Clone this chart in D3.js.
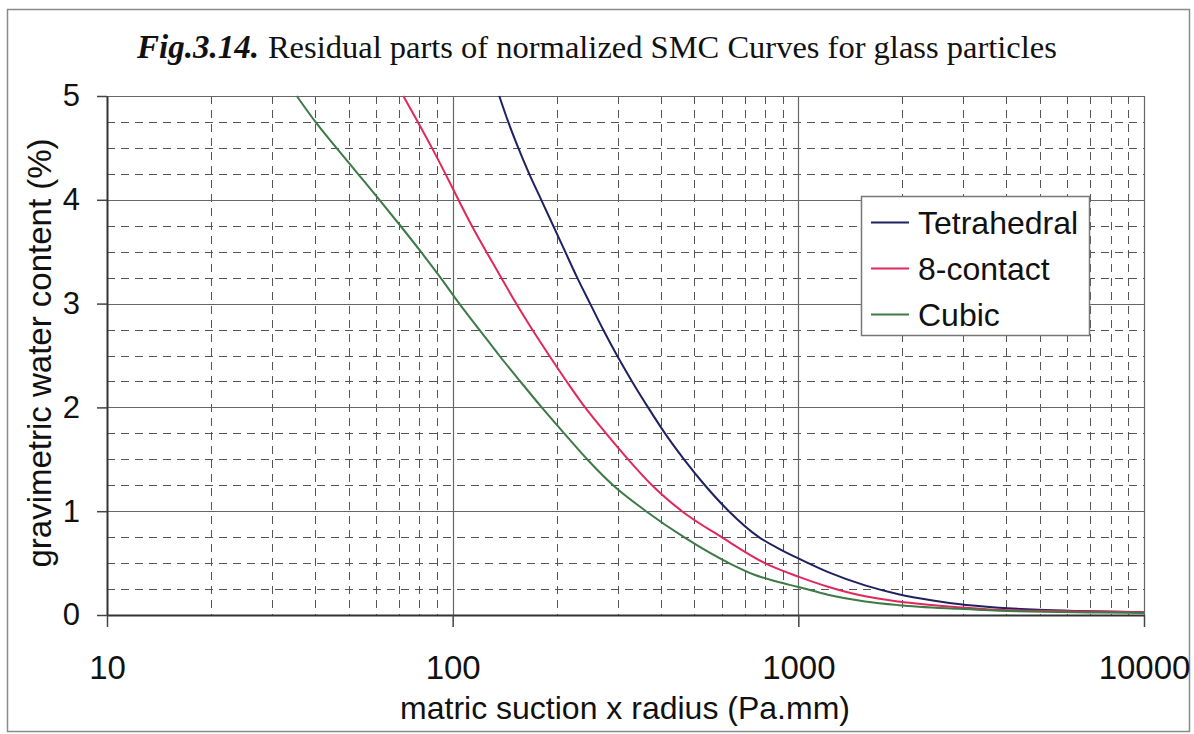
<!DOCTYPE html>
<html>
<head>
<meta charset="utf-8">
<script src="https://cdn.jsdelivr.net/npm/d3@7"></script>
<style>
	html, body { margin: 0; padding: 0; background: #fff; }
	svg text { font-family: "Liberation Sans", Arial, sans-serif; fill: #111; }
</style>
</head>
<body>
<div id="chart"></div>
<script>
// x values: matric suction x radius (Pa.mm), y values: gravimetric water content (%)
var tetraX = [136.4, 144.8, 154.8, 166.5, 180.4, 195.4, 211.6, 229.2, 249.8, 272.4, 298.9, 330.3, 367.5, 411.4, 466.9, 536.7, 629.5, 769, 877, 1000, 1225, 1560, 1950, 2450, 2900, 3800, 4950, 6500, 10000];
var tetraY = [5, 4.75, 4.5, 4.25, 4, 3.75, 3.5, 3.25, 3, 2.75, 2.5, 2.25, 2, 1.75, 1.5, 1.25, 1, 0.75, 0.64, 0.545, 0.41, 0.285, 0.2, 0.14, 0.105, 0.07, 0.05, 0.038, 0.026];

var contactX = [72.0, 79.3, 87.1, 95.3, 103.9, 113.6, 125.1, 138.2, 152.7, 169.9, 190.2, 213.7, 241.6, 277.8, 321.7, 377.3, 460.6, 600, 800, 1000, 1225, 1560, 1950, 2900, 3800, 4950, 10000];
var contactY = [5, 4.75, 4.5, 4.25, 4, 3.75, 3.5, 3.25, 3, 2.75, 2.5, 2.25, 2, 1.75, 1.5, 1.25, 1, 0.75, 0.5, 0.37, 0.27, 0.18, 0.13, 0.075, 0.05, 0.04, 0.026];

var cubicX = [35.4, 40.1, 46.1, 53.2, 61.4, 70.6, 80.9, 92.2, 104.5, 119.4, 136.4, 156.9, 181.0, 210.2, 244.9, 291.1, 362.6, 466.9, 630, 743, 860, 1000, 1225, 1560, 1950, 2900, 3800, 7360, 10000];
var cubicY = [5, 4.75, 4.5, 4.25, 4, 3.75, 3.5, 3.25, 3, 2.75, 2.5, 2.25, 2, 1.75, 1.5, 1.25, 1, 0.75, 0.5, 0.39, 0.325, 0.27, 0.193, 0.13, 0.095, 0.06, 0.042, 0.025, 0.02];

var seriesNames = ["Tetrahedral", "8-contact", "Cubic"];
var seriesColors = ["#1f2160", "#e0285c", "#3d7a47"];

var xTicks = [10, 100, 1000, 10000];
var yTicks = [0, 1, 2, 3, 4, 5];

var W = 1194, H = 734;
var margin = {top: 96, right: 50, bottom: 119, left: 107};

var svg = d3.select("#chart").append("svg")
	.attr("width", W)
	.attr("height", H);

// outer frame of the figure
svg.append("rect")
	.attr("x", 7.5).attr("y", 9.5)
	.attr("width", 1182).attr("height", 722)
	.attr("fill", "none")
	.attr("stroke", "#8a8a8a")
	.attr("stroke-width", 1.5);

var x = d3.scaleLog().domain([10, 10000]).range([margin.left, W - margin.right]);
var y = d3.scaleLinear().domain([0, 5]).range([H - margin.bottom, margin.top]);

var grid = svg.append("g").attr("class", "grid");

// minor vertical grid (dashed)
var minorX = [];
[10, 100, 1000].forEach(function(dec){
	for (var k = 2; k <= 9; k++) minorX.push(dec * k);
});
grid.selectAll(".vminor").data(minorX).enter().append("line")
	.attr("x1", function(d){ return Math.round(x(d)) + 0.5; })
	.attr("x2", function(d){ return Math.round(x(d)) + 0.5; })
	.attr("y1", y(5)).attr("y2", y(0))
	.attr("stroke", "#555")
	.attr("stroke-width", 1)
	.attr("stroke-dasharray", "8,6");

// minor horizontal grid (dashed)
var minorY = d3.range(0.25, 5, 0.25).filter(function(v){ return v % 1 !== 0; });
grid.selectAll(".hminor").data(minorY).enter().append("line")
	.attr("x1", x(10)).attr("x2", x(10000))
	.attr("y1", function(d){ return Math.round(y(d)) + 0.5; })
	.attr("y2", function(d){ return Math.round(y(d)) + 0.5; })
	.attr("stroke", "#555")
	.attr("stroke-width", 1)
	.attr("stroke-dasharray", "8,6");

// major grid (solid)
grid.selectAll(".vmajor").data([100, 1000, 10000]).enter().append("line")
	.attr("x1", function(d){ return Math.round(x(d)) + 0.5; })
	.attr("x2", function(d){ return Math.round(x(d)) + 0.5; })
	.attr("y1", y(5)).attr("y2", y(0))
	.attr("stroke", "#666")
	.attr("stroke-width", 1.2);
grid.selectAll(".hmajor").data([1, 2, 3, 4, 5]).enter().append("line")
	.attr("x1", x(10)).attr("x2", x(10000))
	.attr("y1", function(d){ return Math.round(y(d)) + 0.5; })
	.attr("y2", function(d){ return Math.round(y(d)) + 0.5; })
	.attr("stroke", "#666")
	.attr("stroke-width", 1.2);

// axes
var yAxis = svg.append("g")
	.attr("transform", "translate(" + x(10) + ",0)")
	.call(d3.axisLeft(y).tickValues(yTicks).tickFormat(d3.format("d")).tickSize(10).tickPadding(17).tickSizeOuter(0));
yAxis.select(".domain").attr("stroke", "#333").attr("stroke-width", 2);
yAxis.selectAll(".tick line").attr("stroke", "#444").attr("stroke-width", 1.5);
yAxis.selectAll(".tick text").attr("font-size", 31).attr("font-family", "Liberation Sans, Arial, sans-serif").attr("fill", "#111");

var xAxis = svg.append("g")
	.attr("transform", "translate(0," + y(0) + ")")
	.call(d3.axisBottom(x).tickValues(xTicks).tickFormat(d3.format("d")).tickSize(12).tickPadding(29).tickSizeOuter(0));
xAxis.select(".domain").attr("stroke", "#333").attr("stroke-width", 2);
xAxis.selectAll(".tick line").attr("stroke", "#444").attr("stroke-width", 1.5);
xAxis.selectAll(".tick text").attr("font-size", 33).attr("font-family", "Liberation Sans, Arial, sans-serif").attr("fill", "#111");

// series lines
var series = [
	{name: seriesNames[0], xs: tetraX, ys: tetraY, color: seriesColors[0]},
	{name: seriesNames[1], xs: contactX, ys: contactY, color: seriesColors[1]},
	{name: seriesNames[2], xs: cubicX, ys: cubicY, color: seriesColors[2]}
];

var line = d3.line()
	.curve(d3.curveMonotoneX)
	.x(function(d){ return x(d[0]); })
	.y(function(d){ return y(d[1]); });

svg.append("g").selectAll("path").data(series).enter().append("path")
	.attr("d", function(s){ return line(d3.zip(s.xs, s.ys)); })
	.attr("fill", "none")
	.attr("stroke", function(s){ return s.color; })
	.attr("stroke-width", 2);

// legend
var legend = svg.append("g").attr("transform", "translate(861,196)");
legend.append("rect")
	.attr("x", 0.5).attr("y", 0.5)
	.attr("width", 228).attr("height", 139)
	.attr("fill", "#fff")
	.attr("stroke", "#777")
	.attr("stroke-width", 1.5);
var items = legend.selectAll(".item").data(series).enter().append("g")
	.attr("transform", function(d, i){ return "translate(0," + (26.5 + i * 46) + ")"; });
items.append("line")
	.attr("x1", 10).attr("x2", 48)
	.attr("stroke", function(d){ return d.color; })
	.attr("stroke-width", 2);
items.append("text")
	.attr("x", 57).attr("y", 11)
	.attr("font-size", 32)
	.text(function(d){ return d.name; });

// axis titles
svg.append("text")
	.attr("x", 625).attr("y", 719)
	.attr("text-anchor", "middle")
	.attr("font-size", 32)
	.text("matric suction x radius (Pa.mm)");

svg.append("text")
	.attr("transform", "translate(51,353) rotate(-90)")
	.attr("text-anchor", "middle")
	.attr("font-size", 33)
	.text("gravimetric water content (%)");

// title
var title = svg.append("text")
	.attr("x", 137).attr("y", 58)
	.style("font-family", "Liberation Serif, Times New Roman, serif")
	.attr("font-size", 33);
title.append("tspan")
	.attr("font-weight", "bold").attr("font-style", "italic")
	.text("Fig.3.14.");
title.append("tspan")
	.attr("dx", 9)
	.attr("font-size", 32.5)
	.text("Residual parts of normalized SMC Curves for glass particles");
</script>
</body>
</html>
